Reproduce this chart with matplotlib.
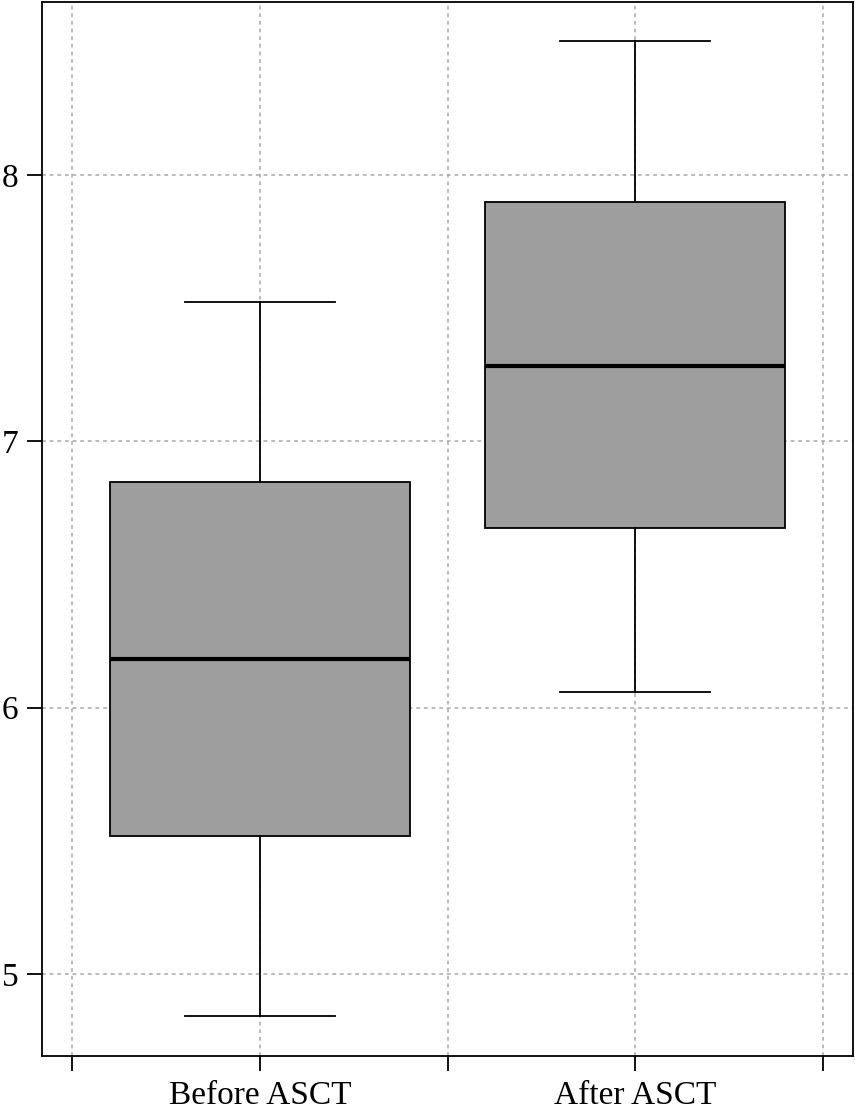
import matplotlib
matplotlib.use("Agg")
import matplotlib.pyplot as plt

plt.rcParams['font.family'] = ['Liberation Serif', 'DejaVu Serif']

categories = ["Before ASCT", "After ASCT"]
whislo = [4.842, 6.060]
q1 = [5.516, 6.673]
med = [6.181, 7.282]
q3 = [6.849, 7.898]
whishi = [7.522, 8.504]

stats = []
for i, c in enumerate(categories):
    stats.append(dict(label=c, whislo=whislo[i], q1=q1[i], med=med[i],
                      q3=q3[i], whishi=whishi[i], fliers=[]))

fig = plt.figure(figsize=(8.55, 11.11), dpi=100)
ax = fig.add_axes([42/855, 1-1056/1111, (853-42)/855, (1056-2)/1111])

positions = [1, 2]
ax.bxp(stats, positions=positions, widths=0.8, patch_artist=True,
       showfliers=False,
       boxprops=dict(facecolor='#9e9e9e', edgecolor='black', linewidth=1.3),
       medianprops=dict(color='black', linewidth=3),
       whiskerprops=dict(color='black', linewidth=1.3),
       capprops=dict(color='black', linewidth=1.3), capwidths=0.4, zorder=3)

ax.set_xlim(0.419, 2.581)
ax.set_ylim(4.691, 8.651)
ax.set_xticks([0.5, 1, 1.5, 2, 2.5])
ax.set_xticklabels(["", categories[0], "", categories[1], ""])
ax.set_yticks([5, 6, 7, 8])
ax.set_yticklabels(["5", "6", "7", "8"])
ax.tick_params(axis='both', direction='out', length=11, width=1.3,
               labelsize=24)
ax.tick_params(axis='x', pad=7)
ax.tick_params(axis='y', pad=6)
ax.grid(True, color='#aaaaaa', linestyle=(0, (2.5, 2.5)), linewidth=1.1, zorder=0)
ax.set_axisbelow(True)
for s in ax.spines.values():
    s.set_linewidth(1.3)

fig.savefig("out.png", dpi=100)
